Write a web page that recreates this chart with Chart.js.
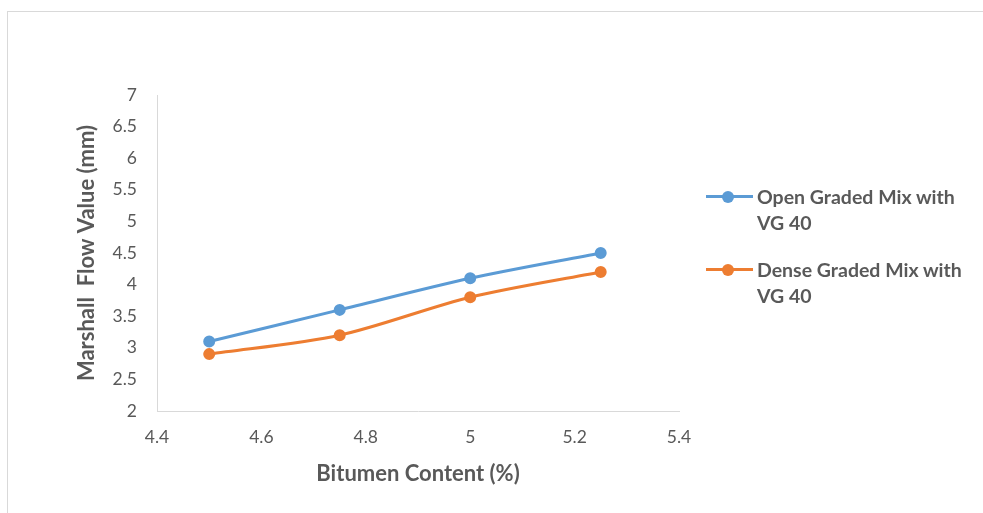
<!DOCTYPE html>
<html>
<head>
<meta charset="utf-8">
<script src="https://cdn.jsdelivr.net/npm/chart.js@4.4.1/dist/chart.umd.min.js"></script>
<style>
  html, body { margin: 0; padding: 0; background: #ffffff; }
  #wrap { position: relative; width: 983px; height: 513px; overflow: hidden; background: #fff; }
  #frame { position: absolute; left: 7px; top: 11px; width: 1000px; height: 600px;
           border-left: 1px solid #d9d9d9; border-top: 1px solid #d9d9d9; box-sizing: border-box; }
  #chart { position: absolute; left: 0; top: 0; }
  #legend { position: absolute; left: 706px; top: 184px; font-family: Lato, "Open Sans", sans-serif;
            font-weight: bold; font-size: 19.5px; color: #595959; }
  .item { position: relative; height: 73px; }
  .mark { position: absolute; left: 0; top: 11px; width: 47px; height: 3px; }
  .dot { position: absolute; left: 16px; top: 7px; width: 12px; height: 12px; border-radius: 50%; }
  .txt { position: absolute; left: 51px; top: 0; line-height: 26px; white-space: nowrap; }
</style>
</head>
<body>
<div id="wrap">
  <div id="frame"></div>
  <canvas id="chart" width="983" height="513"></canvas>
  <div id="legend"></div>
</div>
<script>
// Marshall flow test results for two bituminous mixes
const bitumenContent = [4.5, 4.75, 5.0, 5.25];          // %
const openGradedFlow = [3.1, 3.6, 4.1, 4.5];            // mm
const denseGradedFlow = [2.9, 3.2, 3.8, 4.2];           // mm
const seriesNames = [['Open Graded Mix with', 'VG 40'], ['Dense Graded Mix with', 'VG 40']];
const seriesColors = ['#5B9BD5', '#ED7D31'];
const xTicks = [4.4, 4.6, 4.8, 5.0, 5.2, 5.4];
const yTicks = [2, 2.5, 3, 3.5, 4, 4.5, 5, 5.5, 6, 6.5, 7];

const pairs = ys => bitumenContent.map((x, i) => ({ x, y: ys[i] }));
const textColor = '#595959';
const family = 'Lato, "Open Sans", sans-serif';

const datasets = [openGradedFlow, denseGradedFlow].map((ys, i) => ({
  label: seriesNames[i].join(' '),
  data: pairs(ys),
  borderColor: seriesColors[i],
  backgroundColor: seriesColors[i],
  pointBackgroundColor: seriesColors[i],
  pointBorderColor: seriesColors[i],
  borderWidth: 3,
  pointRadius: 5,
  pointBorderWidth: 2,
  tension: 0.3,
  fill: false
}));

const fmt = v => String(+(+v).toFixed(2));

new Chart(document.getElementById('chart'), {
  type: 'line',
  data: { datasets },
  options: {
    responsive: false,
    animation: false,
    devicePixelRatio: 1,
    layout: { padding: { left: 0, top: 95, right: 304, bottom: 22 } },
    plugins: { legend: { display: false }, tooltip: { enabled: false } },
    scales: {
      x: {
        type: 'linear',
        min: xTicks[0], max: xTicks[xTicks.length - 1],
        afterBuildTicks: s => { s.ticks = xTicks.map(v => ({ value: v })); },
        afterFit: s => { s.height = 80; },
        grid: { display: false, drawTicks: false },
        border: { display: true, color: '#d9d9d9', width: 1 },
        ticks: { padding: 16, color: textColor, font: { family, size: 17.5 }, callback: fmt, maxRotation: 0 },
        title: { display: true, text: 'Bitumen Content (%)', color: textColor,
                 font: { family, size: 22, weight: 'bold' }, padding: { top: 0, bottom: 4 } }
      },
      y: {
        type: 'linear',
        min: yTicks[0], max: yTicks[yTicks.length - 1],
        afterBuildTicks: s => { s.ticks = yTicks.map(v => ({ value: v })); },
        afterFit: s => { s.width = 157; },
        grid: { display: false, drawTicks: false },
        border: { display: true, color: '#d9d9d9', width: 1 },
        ticks: { padding: 20, color: textColor, font: { family, size: 17.5 }, callback: fmt },
        title: { display: true, text: 'Marshall  Flow Value (mm)', color: textColor,
                 font: { family, size: 22, weight: 'bold' }, padding: { top: 74, bottom: 0 } }
      }
    }
  }
});

// Legend beside the plot, each label wrapped over two lines
const legend = document.getElementById('legend');
datasets.forEach((ds, i) => {
  const item = document.createElement('div');
  item.className = 'item';
  item.innerHTML = '<div class="mark" style="background:' + seriesColors[i] + '"></div>' +
                   '<div class="dot" style="background:' + seriesColors[i] + '"></div>' +
                   '<div class="txt">' + seriesNames[i].join('<br>') + '</div>';
  legend.appendChild(item);
});
</script>
</body>
</html>
